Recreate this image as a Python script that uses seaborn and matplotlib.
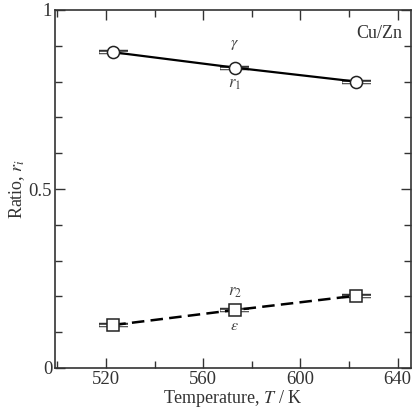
import matplotlib
matplotlib.use("Agg")
import matplotlib.pyplot as plt
import seaborn as sns
import pandas as pd
from matplotlib.ticker import MultipleLocator

# Data
temperature = [523, 573, 623]
r1_gamma = [0.882, 0.839, 0.800]
r2_eps = [0.120, 0.162, 0.202]
t_err = [6, 6, 6]
x_ticks = [520, 560, 600, 640]
y_ticks = [0, 0.5, 1]
y_tick_labels = ["0", "0.5", "1"]

sns.set_theme(style="ticks")
plt.rcParams['font.family'] = ['Liberation Serif', 'DejaVu Serif']
plt.rcParams['mathtext.fontset'] = 'stix'

df = pd.DataFrame({"T": temperature * 2,
                   "r": r1_gamma + r2_eps,
                   "phase": ["r1"] * 3 + ["r2"] * 3})

fig = plt.figure(figsize=(4.19, 4.08), dpi=100)
ax = fig.add_axes([55 / 419, 1 - 368 / 408, 356 / 419, 358 / 408])

# error bars (double line look)
for ys in (r1_gamma, r2_eps):
    ax.errorbar(temperature, ys, xerr=t_err, fmt='none', ecolor='#333333',
                elinewidth=3.2, capsize=0, zorder=2)
    ax.errorbar(temperature, ys, xerr=t_err, fmt='none', ecolor='white',
                elinewidth=1.0, capsize=0, zorder=2.1)

sns.lineplot(data=df[df.phase == "r1"], x="T", y="r", ax=ax, color='black',
             linewidth=1.6, marker='o', markersize=8.7, markerfacecolor='white',
             markeredgecolor='#222222', markeredgewidth=1.1, zorder=3)
sns.lineplot(data=df[df.phase == "r2"], x="T", y="r", ax=ax, color='black',
             linewidth=1.8, linestyle=(0, (5, 2.5)), marker='s', markersize=8.3,
             markerfacecolor='white', markeredgecolor='#222222',
             markeredgewidth=1.1, zorder=3)

ax.set_xlim(499, 645.5)
ax.set_ylim(0, 1)
ax.set_xticks(x_ticks)
ax.xaxis.set_minor_locator(MultipleLocator(20))
ax.set_yticks(y_ticks)
ax.set_yticklabels(y_tick_labels)
ax.yaxis.set_minor_locator(MultipleLocator(0.1))
ax.tick_params(which='both', direction='in', top=True, right=True,
               labelsize=13.5, colors='#333333', pad=2)
ax.tick_params(which='major', length=7, width=1)
ax.tick_params(which='minor', length=5, width=1)
for sp in ax.spines.values():
    sp.set_linewidth(1.2)
    sp.set_color('#333333')

ax.set_xlabel("Temperature, $T$ / K", fontsize=13, color='#333333', labelpad=0)
ax.set_ylabel("Ratio, $r_i$", fontsize=13, color='#333333', labelpad=1)

ax.text(573, 0.905, r"$\gamma$", ha='center', va='center', fontsize=11.5, color='#444444')
ax.text(573, 0.793, r"$r_1$", ha='center', va='center', fontsize=12, color='#444444')
ax.text(573, 0.213, r"$r_2$", ha='center', va='center', fontsize=12, color='#444444')
ax.text(573, 0.117, r"$\varepsilon$", ha='center', va='center', fontsize=11.5, color='#444444')
ax.text(642, 0.935, "Cu/Zn", ha='right', va='center', fontsize=13, color='#333333')

fig.savefig("out.png", dpi=100)
